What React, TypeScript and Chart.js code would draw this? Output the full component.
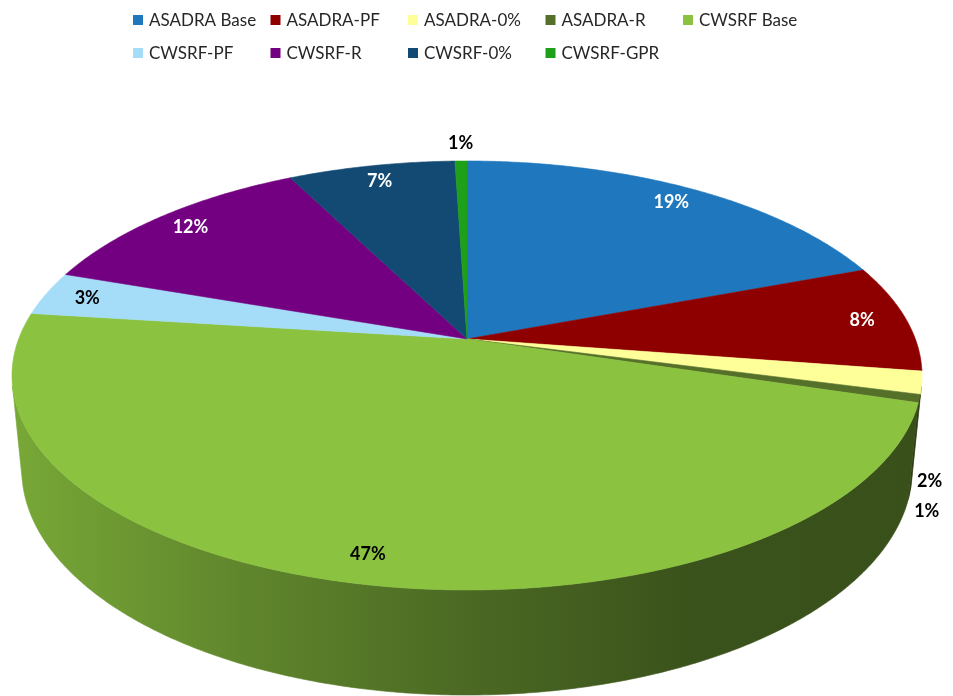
import React, { useEffect, useRef } from "react";
import { Chart, registerables } from "chart.js";

Chart.register(...registerables);

// ---- data ----
const categories = [
  "ASADRA Base",
  "ASADRA-PF",
  "ASADRA-0%",
  "ASADRA-R",
  "CWSRF Base",
  "CWSRF-PF",
  "CWSRF-R",
  "CWSRF-0%",
  "CWSRF-GPR",
];
const shares = [19.3, 8.1, 1.7, 0.6, 47.3, 3.3, 12.2, 7.0, 0.5];
const sliceColors = [
  "#1f77bd",
  "#8e0000",
  "#ffff99",
  "#557028",
  "#8bc340",
  "#a5dcf8",
  "#730080",
  "#134a74",
  "#1fa01a",
];

// ---- 3D view constants (perspective, tilt, thickness) ----
const PERSP = 5.205;
const SIN_T = 0.4645;
const COS_T = 0.8856;
const DEPTH = 0.2387;

function hexToRgb(h: string): [number, number, number] {
  const v = parseInt(h.slice(1), 16);
  return [(v >> 16) & 255, (v >> 8) & 255, v & 255];
}
function shade(h: string, f: number) {
  const [r, g, b] = hexToRgb(h);
  return `rgb(${Math.round(r * f)},${Math.round(g * f)},${Math.round(b * f)})`;
}
function lum(h: string) {
  const [r, g, b] = hexToRgb(h);
  return (0.299 * r + 0.587 * g + 0.114 * b) / 255;
}

const pie3d = {
  id: "pie3d",
  beforeDatasetsDraw(chart: any) {
    const ctx: CanvasRenderingContext2D = chart.ctx;
    const area = chart.chartArea;
    const meta = chart.getDatasetMeta(0);
    const ds = chart.data.datasets[0];
    const values: number[] = ds.data;
    const total = values.reduce((a: number, b: number) => a + b, 0);
    const cols: string[] = ds.backgroundColor;

    const cx = (area.left + area.right) / 2;
    const R =
      ((area.right - area.left) / 2) *
      Math.sqrt(1 - (COS_T / PERSP) * (COS_T / PERSP));
    const cy = area.top + (R * PERSP * SIN_T) / (PERSP + COS_T);

    const proj = (th: number, r: number, z: number): [number, number] => {
      const X = r * Math.cos(th);
      const Y = r * Math.sin(th);
      const yv = Y * SIN_T - z * COS_T;
      const d = Y * COS_T + z * SIN_T;
      const k = PERSP / (PERSP - d);
      return [cx + R * X * k, cy + R * yv * k];
    };

    const vis0 = Math.asin(1 / (PERSP * COS_T));
    const vis1 = Math.PI - vis0;
    const step = Math.PI / 360;

    const arcs = meta.data.map((arc: any) =>
      arc.getProps(["startAngle", "endAngle"], true)
    );

    ctx.save();
    // ---- outer walls ----
    arcs.forEach((a: any, i: number) => {
      for (const off of [-2 * Math.PI, 0, 2 * Math.PI]) {
        const s = Math.max(a.startAngle, vis0 + off);
        const e = Math.min(a.endAngle, vis1 + off);
        if (e <= s) continue;
        const n = Math.max(2, Math.ceil((e - s) / step));
        ctx.beginPath();
        for (let j = 0; j <= n; j++) {
          const th = s + ((e - s) * j) / n;
          const p = proj(th, 1, 0);
          if (j === 0) ctx.moveTo(p[0], p[1]);
          else ctx.lineTo(p[0], p[1]);
        }
        for (let j = n; j >= 0; j--) {
          const th = s + ((e - s) * j) / n;
          const p = proj(th, 1, -DEPTH);
          ctx.lineTo(p[0], p[1]);
        }
        ctx.closePath();
        const g = ctx.createLinearGradient(area.left, 0, area.right, 0);
        g.addColorStop(0, shade(cols[i], 0.86));
        g.addColorStop(0.26, shade(cols[i], 0.68));
        g.addColorStop(0.5, shade(cols[i], 0.54));
        g.addColorStop(0.75, shade(cols[i], 0.42));
        g.addColorStop(1, shade(cols[i], 0.41));
        ctx.fillStyle = g;
        ctx.strokeStyle = g;
        ctx.lineWidth = 0.6;
        ctx.fill();
        ctx.stroke();
      }
    });

    // ---- top faces ----
    arcs.forEach((a: any, i: number) => {
      const s = a.startAngle;
      const e = a.endAngle;
      const n = Math.max(2, Math.ceil((e - s) / step));
      ctx.beginPath();
      ctx.moveTo(cx, cy);
      for (let j = 0; j <= n; j++) {
        const th = s + ((e - s) * j) / n;
        const p = proj(th, 1, 0);
        ctx.lineTo(p[0], p[1]);
      }
      ctx.closePath();
      ctx.fillStyle = cols[i];
      ctx.strokeStyle = cols[i];
      ctx.lineWidth = 0.6;
      ctx.fill();
      ctx.stroke();
    });

    // ---- labels ----
    ctx.font = "bold 18px Lato";
    ctx.textAlign = "center";
    ctx.textBaseline = "middle";
    const placed: [number, number][] = [];
    arcs.forEach((a: any, i: number) => {
      const frac = values[i] / total;
      const txt = Math.round(frac * 100) + "%";
      const mid = (a.startAngle + a.endAngle) / 2;
      let x: number, y: number;
      if (frac >= 0.025) {
        [x, y] = proj(mid, 0.9, 0);
        ctx.fillStyle = lum(cols[i]) < 0.4 ? "#ffffff" : "#000000";
      } else {
        const sm = Math.sin(mid);
        const front = sm > 0;
        [x, y] = proj(mid, 1, front ? -DEPTH : 0);
        x += 18 * Math.cos(mid);
        y += 18 * sm;
        for (const q of placed) {
          if (Math.abs(q[0] - x) < 40 && Math.abs(q[1] - y) < 26) {
            y = q[1] + 30;
          }
        }
        placed.push([x, y]);
        ctx.fillStyle = "#000000";
      }
      ctx.fillText(txt, x, y);
    });
    ctx.restore();
    return false;
  },
  afterDraw(chart: any) {
    const ctx: CanvasRenderingContext2D = chart.ctx;
    const labels: string[] = chart.data.labels;
    const cols: string[] = chart.data.datasets[0].backgroundColor;
    ctx.save();
    ctx.font = "17px Lato";
    ctx.textAlign = "left";
    ctx.textBaseline = "middle";
    labels.forEach((lab, i) => {
      const row = i < 5 ? 0 : 1;
      const col = i < 5 ? i : i - 5;
      const x = 133 + col * 137.5;
      const y = 20 + row * 33;
      ctx.fillStyle = cols[i];
      ctx.fillRect(x, y - 5, 10, 10);
      ctx.fillStyle = "#262626";
      ctx.fillText(lab, x + 16, y + 1);
    });
    ctx.restore();
  },
};

export default function App() {
  const ref = useRef<HTMLCanvasElement | null>(null);
  useEffect(() => {
    document.body.style.margin = "0";
    if (!ref.current) return;
    const chart = new Chart(ref.current, {
      type: "pie",
      data: {
        labels: categories,
        datasets: [
          {
            data: shares,
            backgroundColor: sliceColors,
            borderWidth: 0,
          },
        ],
      },
      options: {
        responsive: false,
        maintainAspectRatio: false,
        devicePixelRatio: 1,
        animation: false,
        layout: { padding: { left: 12, right: 31, top: 161, bottom: 1 } },
        plugins: {
          legend: { display: false },
          tooltip: { enabled: false },
        },
      },
      plugins: [pie3d],
    } as any);
    return () => chart.destroy();
  }, []);
  return (
    <div style={{ width: 953, height: 696, background: "#ffffff" }}>
      <canvas ref={ref} width={953} height={696} style={{ display: "block" }} />
    </div>
  );
}
